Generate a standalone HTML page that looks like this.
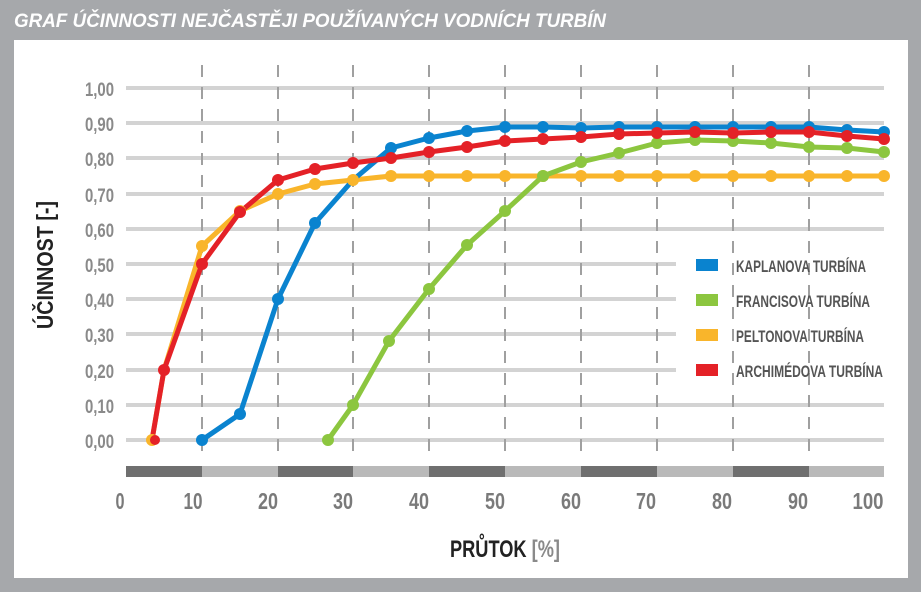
<!DOCTYPE html>
<html><head><meta charset="utf-8"><style>
html,body{margin:0;padding:0;background:#a6a8ab;}
svg{display:block}
</style></head><body>
<svg width="921" height="592" xmlns="http://www.w3.org/2000/svg" font-family="'Liberation Sans Narrow','Liberation Sans',sans-serif">
<rect width="921" height="592" fill="#a6a8ab"/>
<text x="14" y="27" fill="#fff" font-family="'Liberation Sans',sans-serif" font-weight="bold" font-style="italic" font-size="19" textLength="592" lengthAdjust="spacingAndGlyphs">GRAF ÚČINNOSTI NEJČASTĚJI POUŽÍVANÝCH VODNÍCH TURBÍN</text>
<rect x="14" y="40" width="894" height="538" fill="#fff"/>
<g stroke="#d3d3d3" stroke-width="4">
<line x1="126" y1="88" x2="884" y2="88"/>
<line x1="126" y1="123" x2="884" y2="123"/>
<line x1="126" y1="158" x2="884" y2="158"/>
<line x1="126" y1="194" x2="884" y2="194"/>
<line x1="126" y1="229" x2="884" y2="229"/>
<line x1="126" y1="264" x2="676" y2="264"/>
<line x1="126" y1="299" x2="676" y2="299"/>
<line x1="126" y1="334" x2="676" y2="334"/>
<line x1="126" y1="370" x2="676" y2="370"/>
<line x1="126" y1="405" x2="884" y2="405"/>
<line x1="126" y1="440" x2="884" y2="440"/>
</g>
<g stroke="#a0a0a0" stroke-width="2" stroke-dasharray="12,10">
<line x1="202" y1="65" x2="202" y2="460"/>
<line x1="278" y1="65" x2="278" y2="460"/>
<line x1="353" y1="65" x2="353" y2="460"/>
<line x1="429" y1="65" x2="429" y2="460"/>
<line x1="505" y1="65" x2="505" y2="460"/>
<line x1="581" y1="65" x2="581" y2="460"/>
<line x1="657" y1="65" x2="657" y2="460"/>
<line x1="733" y1="65" x2="733" y2="460"/>
<line x1="809" y1="65" x2="809" y2="460"/>
</g>
<g>
<rect x="126" y="466" width="76" height="11" fill="#6f6f6f"/><rect x="202" y="466" width="76" height="11" fill="#b9b9b9"/>
<rect x="278" y="466" width="75" height="11" fill="#6f6f6f"/><rect x="353" y="466" width="76" height="11" fill="#b9b9b9"/>
<rect x="429" y="466" width="76" height="11" fill="#6f6f6f"/><rect x="505" y="466" width="76" height="11" fill="#b9b9b9"/>
<rect x="581" y="466" width="76" height="11" fill="#6f6f6f"/><rect x="657" y="466" width="76" height="11" fill="#b9b9b9"/>
<rect x="733" y="466" width="76" height="11" fill="#6f6f6f"/><rect x="809" y="466" width="75" height="11" fill="#b9b9b9"/>
</g>
<g fill="#8a8a8a" font-size="19" text-anchor="end" font-weight="bold">
<text x="114" y="96" textLength="29" lengthAdjust="spacingAndGlyphs">1,00</text><text x="114" y="131" textLength="29" lengthAdjust="spacingAndGlyphs">0,90</text><text x="114" y="166" textLength="29" lengthAdjust="spacingAndGlyphs">0,80</text><text x="114" y="202" textLength="29" lengthAdjust="spacingAndGlyphs">0,70</text><text x="114" y="237" textLength="29" lengthAdjust="spacingAndGlyphs">0,60</text><text x="114" y="272" textLength="29" lengthAdjust="spacingAndGlyphs">0,50</text><text x="114" y="307" textLength="29" lengthAdjust="spacingAndGlyphs">0,40</text><text x="114" y="342" textLength="29" lengthAdjust="spacingAndGlyphs">0,30</text><text x="114" y="378" textLength="29" lengthAdjust="spacingAndGlyphs">0,20</text><text x="114" y="413" textLength="29" lengthAdjust="spacingAndGlyphs">0,10</text><text x="114" y="448" textLength="29" lengthAdjust="spacingAndGlyphs">0,00</text>
</g>
<g fill="#7a7a7a" font-size="23" text-anchor="middle" font-weight="bold">
<text x="120" y="509" textLength="9" lengthAdjust="spacingAndGlyphs">0</text><text x="193" y="509" textLength="19" lengthAdjust="spacingAndGlyphs">10</text><text x="268" y="509" textLength="20" lengthAdjust="spacingAndGlyphs">20</text><text x="343" y="509" textLength="20" lengthAdjust="spacingAndGlyphs">30</text><text x="419" y="509" textLength="20" lengthAdjust="spacingAndGlyphs">40</text><text x="495" y="509" textLength="20" lengthAdjust="spacingAndGlyphs">50</text><text x="571" y="509" textLength="20" lengthAdjust="spacingAndGlyphs">60</text><text x="646" y="509" textLength="20" lengthAdjust="spacingAndGlyphs">70</text><text x="722" y="509" textLength="20" lengthAdjust="spacingAndGlyphs">80</text><text x="798" y="509" textLength="20" lengthAdjust="spacingAndGlyphs">90</text><text x="868" y="509" textLength="31" lengthAdjust="spacingAndGlyphs">100</text>
</g>
<text transform="translate(53,265) rotate(-90)" text-anchor="middle" font-size="23" font-weight="bold" fill="#222" textLength="128" lengthAdjust="spacingAndGlyphs">ÚČINNOST [-]</text>
<text x="450" y="557" font-size="24" font-weight="bold" fill="#222" textLength="110" lengthAdjust="spacingAndGlyphs">PRŮTOK <tspan fill="#8a8a8a">[%]</tspan></text>
<g fill="none" stroke-width="5" stroke-linejoin="round">
<polyline stroke="#f9b52b" points="152,440 164,370 202,246 240,211 278,194 315,184 353,180 391,176 429,176 467,176 505,176 543,176 581,176 619,176 657,176 695,176 733,176 771,176 809,176 847,176 884,176"/>
<polyline stroke="#8cc63f" points="328,440 353,405 389,341 429,289 467,245 505,211 543,176 581,162 619,153 657,143 695,140 733,141 771,143 809,147 847,148 884,152"/>
<polyline stroke="#0a83cf" points="202,440 240,414 278,299 315,223 353,180 391,148 429,138 467,131 505,127 543,127 581,128 619,127 657,127 695,127 733,127 771,127 809,127 847,130 884,132"/>
<polyline stroke="#e42127" points="152,440 164,370 202,264 240,212 278,180 315,169 353,163 391,158 429,152 467,147 505,141 543,139 581,137 619,134 657,133 695,132 733,133 771,132 809,132 847,136 884,139"/>
</g>
<g fill="#f9b52b"><circle cx="152" cy="440" r="6"/><circle cx="202" cy="246" r="6"/><circle cx="240" cy="211" r="6"/><circle cx="278" cy="194" r="6"/><circle cx="315" cy="184" r="6"/><circle cx="353" cy="180" r="6"/><circle cx="391" cy="176" r="6"/><circle cx="429" cy="176" r="6"/><circle cx="467" cy="176" r="6"/><circle cx="505" cy="176" r="6"/><circle cx="543" cy="176" r="6"/><circle cx="581" cy="176" r="6"/><circle cx="619" cy="176" r="6"/><circle cx="657" cy="176" r="6"/><circle cx="695" cy="176" r="6"/><circle cx="733" cy="176" r="6"/><circle cx="771" cy="176" r="6"/><circle cx="809" cy="176" r="6"/><circle cx="847" cy="176" r="6"/><circle cx="884" cy="176" r="6"/></g>
<g fill="#8cc63f"><circle cx="328" cy="440" r="6"/><circle cx="353" cy="405" r="6"/><circle cx="389" cy="341" r="6"/><circle cx="429" cy="289" r="6"/><circle cx="467" cy="245" r="6"/><circle cx="505" cy="211" r="6"/><circle cx="543" cy="176" r="6"/><circle cx="581" cy="162" r="6"/><circle cx="619" cy="153" r="6"/><circle cx="657" cy="143" r="6"/><circle cx="695" cy="140" r="6"/><circle cx="733" cy="141" r="6"/><circle cx="771" cy="143" r="6"/><circle cx="809" cy="147" r="6"/><circle cx="847" cy="148" r="6"/><circle cx="884" cy="152" r="6"/></g>
<g fill="#0a83cf"><circle cx="202" cy="440" r="6"/><circle cx="240" cy="414" r="6"/><circle cx="278" cy="299" r="6"/><circle cx="315" cy="223" r="6"/><circle cx="391" cy="148" r="6"/><circle cx="429" cy="138" r="6"/><circle cx="467" cy="131" r="6"/><circle cx="505" cy="127" r="6"/><circle cx="543" cy="127" r="6"/><circle cx="581" cy="128" r="6"/><circle cx="619" cy="127" r="6"/><circle cx="657" cy="127" r="6"/><circle cx="695" cy="127" r="6"/><circle cx="733" cy="127" r="6"/><circle cx="771" cy="127" r="6"/><circle cx="809" cy="127" r="6"/><circle cx="847" cy="130" r="6"/><circle cx="884" cy="132" r="6"/></g>
<g fill="#e42127"><circle cx="155" cy="440" r="5"/><circle cx="164" cy="370" r="6"/><circle cx="202" cy="264" r="6"/><circle cx="240" cy="212" r="6"/><circle cx="278" cy="180" r="6"/><circle cx="315" cy="169" r="6"/><circle cx="353" cy="163" r="6"/><circle cx="391" cy="158" r="6"/><circle cx="429" cy="152" r="6"/><circle cx="467" cy="147" r="6"/><circle cx="505" cy="141" r="6"/><circle cx="543" cy="139" r="6"/><circle cx="581" cy="137" r="6"/><circle cx="619" cy="134" r="6"/><circle cx="657" cy="133" r="6"/><circle cx="695" cy="132" r="6"/><circle cx="733" cy="133" r="6"/><circle cx="771" cy="132" r="6"/><circle cx="809" cy="132" r="6"/><circle cx="847" cy="136" r="6"/><circle cx="884" cy="139" r="6"/></g>
<g>
<rect x="696" y="259" width="22" height="12" fill="#0a83cf"/>
<rect x="696" y="294" width="22" height="12" fill="#8cc63f"/>
<rect x="696" y="329" width="22" height="12" fill="#f9b52b"/>
<rect x="696" y="364" width="22" height="12" fill="#e42127"/>
</g>
<g fill="#555" font-size="17" font-weight="bold">
<text x="736" y="272" textLength="130" lengthAdjust="spacingAndGlyphs">KAPLANOVA TURBÍNA</text>
<text x="736" y="307" textLength="134" lengthAdjust="spacingAndGlyphs">FRANCISOVA TURBÍNA</text>
<text x="736" y="342" textLength="128" lengthAdjust="spacingAndGlyphs">PELTONOVA TURBÍNA</text>
<text x="736" y="377" textLength="147" lengthAdjust="spacingAndGlyphs">ARCHIMÉDOVA TURBÍNA</text>
</g>
</svg>
</body></html>
